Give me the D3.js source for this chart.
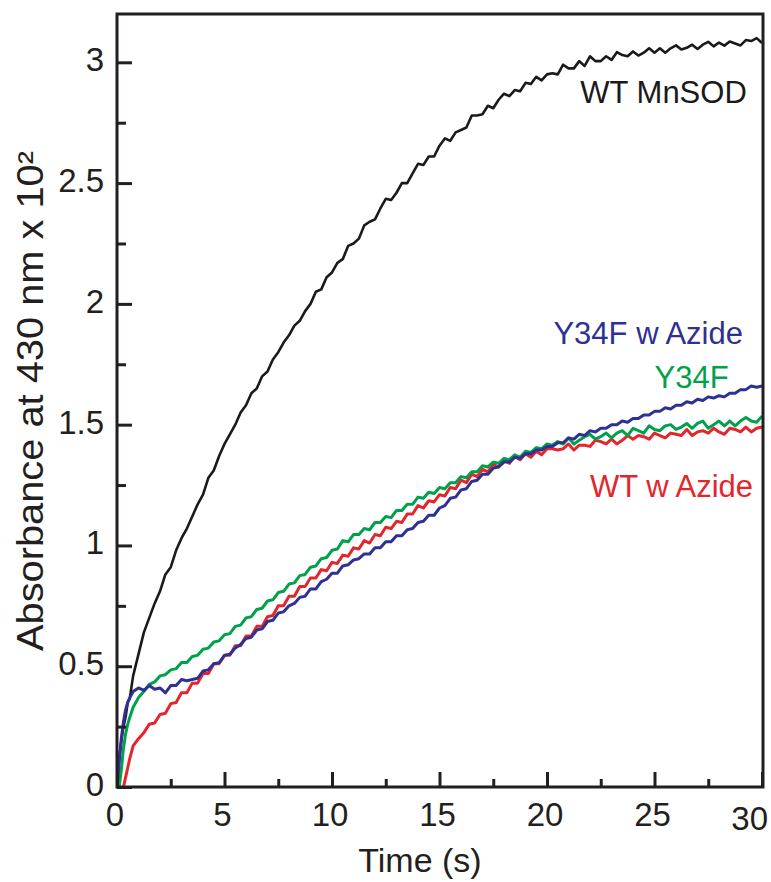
<!DOCTYPE html>
<html>
<head>
<meta charset="utf-8">
<script src="https://cdn.jsdelivr.net/npm/d3@7"></script>
<style>
  html, body { margin: 0; padding: 0; background: #fff; }
  svg { display: block; font-family: "Liberation Sans", Arial, Helvetica, sans-serif; }
</style>
</head>
<body>
<svg id="chart" width="771" height="882"></svg>
<script>
// ---- Data ----
const time = [0,0.1,0.2,0.3,0.4,0.5,0.6,0.75,1,
1.25,1.5,1.75,2,2.25,2.5,2.75,3,3.25,3.5,3.75,4,4.25,4.5,4.75,5,5.25,5.5,5.75,6,6.25,6.5,6.75,7,7.25,7.5,7.75,8,8.25,8.5,8.75,9,9.25,9.5,9.75,10,
10.25,10.5,10.75,11,11.25,11.5,11.75,12,12.25,12.5,12.75,13,13.25,13.5,13.75,14,14.25,14.5,14.75,15,15.25,15.5,15.75,16,16.25,16.5,16.75,17,17.25,17.5,17.75,18,18.25,18.5,18.75,19,19.25,19.5,19.75,20,
20.25,20.5,20.75,21,21.25,21.5,21.75,22,22.25,22.5,22.75,23,23.25,23.5,23.75,24,24.25,24.5,24.75,25,25.25,25.5,25.75,26,26.25,26.5,26.75,27,27.25,27.5,27.75,28,28.25,28.5,28.75,29,29.25,29.5,29.75,30];

const wtMnSOD = [0,0.12,0.19,0.25,0.29,0.35,0.37,0.46,0.55,
0.64,0.70,0.76,0.81,0.88,0.91,0.98,1.03,1.07,1.12,1.17,1.21,1.28,1.31,1.37,1.42,1.46,1.50,1.55,1.58,1.63,1.65,1.70,1.72,1.77,1.80,1.84,1.87,1.91,1.93,1.97,2.00,2.05,2.06,2.11,2.13,
2.17,2.185,2.24,2.25,2.27,2.325,2.34,2.35,2.395,2.435,2.43,2.46,2.50,2.50,2.54,2.58,2.575,2.61,2.61,2.655,2.685,2.675,2.71,2.72,2.73,2.78,2.78,2.785,2.82,2.81,2.845,2.87,2.86,2.885,2.88,2.915,2.91,2.94,2.925,2.95,
2.955,2.95,2.99,2.975,2.975,3.005,2.985,3.025,3.005,3.005,3.025,3.01,3.042,3.03,3.025,3.045,3.028,3.04,3.058,3.04,3.058,3.04,3.058,3.07,3.053,3.06,3.073,3.055,3.073,3.085,3.066,3.082,3.069,3.086,3.078,3.07,3.092,3.088,3.10,3.08];

const y34fAzide = [0,0.10,0.20,0.27,0.32,0.35,0.37,0.395,0.41,
0.40,0.42,0.405,0.41,0.39,0.42,0.42,0.445,0.44,0.445,0.45,0.48,0.485,0.51,0.515,0.545,0.55,0.575,0.59,0.615,0.62,0.65,0.655,0.685,0.69,0.72,0.725,0.75,0.76,0.785,0.79,0.82,0.82,0.85,0.86,0.885,
0.885,0.915,0.92,0.94,0.945,0.965,0.965,0.99,0.99,1.015,1.015,1.04,1.04,1.065,1.07,1.095,1.10,1.125,1.125,1.155,1.165,1.195,1.20,1.23,1.235,1.265,1.27,1.295,1.295,1.32,1.325,1.345,1.345,1.365,1.36,1.38,1.38,1.395,1.395,1.41,
1.41,1.425,1.425,1.445,1.44,1.46,1.455,1.475,1.47,1.485,1.485,1.50,1.50,1.515,1.51,1.525,1.525,1.54,1.54,1.555,1.555,1.57,1.565,1.58,1.58,1.595,1.59,1.605,1.60,1.615,1.61,1.62,1.615,1.63,1.63,1.645,1.645,1.66,1.655,1.66];

const y34f = [0,0.0,0.07,0.16,0.22,0.26,0.29,0.33,0.37,
0.395,0.425,0.435,0.46,0.465,0.485,0.49,0.515,0.515,0.54,0.545,0.57,0.575,0.60,0.605,0.63,0.635,0.665,0.67,0.70,0.705,0.735,0.74,0.77,0.775,0.805,0.81,0.84,0.845,0.875,0.88,0.91,0.915,0.945,0.95,0.98,
0.985,1.02,1.015,1.045,1.045,1.07,1.065,1.095,1.095,1.12,1.115,1.145,1.145,1.17,1.17,1.20,1.195,1.22,1.215,1.24,1.235,1.26,1.26,1.285,1.28,1.305,1.305,1.33,1.325,1.345,1.34,1.36,1.355,1.375,1.365,1.39,1.385,1.405,1.40,1.42,
1.415,1.43,1.42,1.445,1.42,1.435,1.45,1.46,1.44,1.45,1.465,1.445,1.465,1.475,1.455,1.485,1.475,1.465,1.495,1.48,1.475,1.495,1.50,1.48,1.49,1.505,1.485,1.505,1.515,1.485,1.50,1.515,1.495,1.515,1.495,1.515,1.53,1.515,1.51,1.535];

const wtAzide = [null,null,null,0,0.04,0.08,0.12,0.17,0.20,
0.225,0.26,0.265,0.30,0.305,0.345,0.35,0.39,0.39,0.43,0.43,0.47,0.47,0.51,0.51,0.545,0.545,0.585,0.585,0.625,0.625,0.665,0.665,0.705,0.71,0.75,0.75,0.79,0.79,0.83,0.83,0.865,0.865,0.90,0.895,0.93,
0.925,0.96,0.955,0.99,0.985,1.02,1.01,1.045,1.04,1.075,1.07,1.10,1.095,1.13,1.13,1.165,1.155,1.185,1.18,1.21,1.205,1.24,1.235,1.27,1.26,1.295,1.285,1.315,1.305,1.335,1.325,1.355,1.34,1.37,1.355,1.38,1.365,1.39,1.375,1.40,
1.40,1.395,1.40,1.42,1.395,1.415,1.415,1.41,1.435,1.43,1.42,1.44,1.42,1.435,1.455,1.44,1.455,1.45,1.44,1.465,1.455,1.445,1.465,1.46,1.455,1.48,1.455,1.47,1.475,1.465,1.485,1.47,1.46,1.485,1.48,1.47,1.49,1.47,1.485,1.49];

const seriesNames = ["WT MnSOD", "WT w Azide", "Y34F", "Y34F w Azide"];
const seriesValues = [wtMnSOD, wtAzide, y34f, y34fAzide];
const seriesColors = ["#1a1a1a", "#e3262b", "#00a14b", "#2e3192"];

const xMajorTicks = [0,5,10,15,20,25,30];
const xMinorTicks = [2.5,7.5,12.5,17.5,22.5,27.5];
const yMajorTicks = [0,0.5,1,1.5,2,2.5,3];
const yMinorTicks = [0.25,0.75,1.25,1.75,2.25,2.75];
const yTickLabels = ["0","0.5","1","1.5","2","2.5","3"];

const xTitle = "Time (s)";
const yTitle = "Absorbance at 430 nm x 10²";

// series-name labels, placed in data coordinates
const labelPos = [
  {name: "WT MnSOD", t: 21.55, v: 2.83, color: "#1a1a1a"},
  {name: "Y34F w Azide", t: 20.3, v: 1.835, color: "#2e3192"},
  {name: "Y34F", t: 25.0, v: 1.65, color: "#00a14b"},
  {name: "WT w Azide", t: 22.0, v: 1.20, color: "#e3262b"}
];

// ---- Layout ----
const svg = d3.select("#chart");
const L = 117, R = 763, T = 14, B = 787;
const x = d3.scaleLinear().domain([0, 30]).range([L, 762]);
const y = d3.scaleLinear().domain([0, 3.2]).range([B, T]);
const axisColor = "#231f20";

svg.append("defs").append("clipPath").attr("id", "clip")
  .append("rect").attr("x", L).attr("y", T).attr("width", R - L).attr("height", B - T);

const line = d3.line()
  .defined(d => d[1] !== null)
  .x(d => x(d[0])).y(d => y(d[1]));

const gLines = svg.append("g").attr("clip-path", "url(#clip)");
seriesValues.forEach((vals, i) => {
  const pts = time.map((t, k) => [t, vals[k]]);
  gLines.append("path")
    .datum(pts)
    .attr("d", line)
    .attr("fill", "none")
    .attr("stroke", seriesColors[i])
    .attr("stroke-width", i === 0 ? 2.6 : 3)
    .attr("stroke-linejoin", "round");
});

// frame
svg.append("rect")
  .attr("x", L).attr("y", T).attr("width", R - L).attr("height", B - T)
  .attr("fill", "none").attr("stroke", axisColor).attr("stroke-width", 3);

// inward ticks
const xAxisMajor = d3.axisBottom(x).tickValues(xMajorTicks).tickSize(-15).tickFormat("");
const xAxisMinor = d3.axisBottom(x).tickValues(xMinorTicks).tickSize(-8).tickFormat("");
const yAxisMajor = d3.axisLeft(y).tickValues(yMajorTicks).tickSize(-15).tickFormat("");
const yAxisMinor = d3.axisLeft(y).tickValues(yMinorTicks).tickSize(-9).tickFormat("");

[[xAxisMajor, `translate(0,${B})`], [xAxisMinor, `translate(0,${B})`],
 [yAxisMajor, `translate(${L},0)`], [yAxisMinor, `translate(${L},0)`]].forEach(([ax, tr]) => {
  const g = svg.append("g").attr("transform", tr).call(ax);
  g.select(".domain").remove();
  g.selectAll(".tick line").attr("stroke", axisColor).attr("stroke-width", 3);
});

// tick labels
const lastX = xMajorTicks[xMajorTicks.length - 1];
svg.append("g").selectAll("text").data(xMajorTicks).join("text")
  .attr("x", d => d === lastX ? 768 : x(d) - 2)
  .attr("y", d => d === lastX ? B + 43 : B + 39)
  .attr("text-anchor", d => d === lastX ? "end" : "middle")
  .attr("font-size", 33).attr("fill", "#231f20")
  .text(d => d);

svg.append("g").selectAll("text").data(yMajorTicks).join("text")
  .attr("x", 104).attr("y", d => y(d) + 9)
  .attr("text-anchor", "end")
  .attr("font-size", 33).attr("fill", "#231f20")
  .text((d, i) => yTickLabels[i]);

// axis titles
svg.append("text")
  .attr("x", 420).attr("y", 872)
  .attr("text-anchor", "middle")
  .attr("font-size", 34).attr("fill", "#231f20")
  .text(xTitle);

svg.append("text")
  .attr("transform", "translate(43,401) rotate(-90)")
  .attr("text-anchor", "middle")
  .attr("font-size", 36).attr("fill", "#231f20")
  .attr("textLength", 500).attr("lengthAdjust", "spacingAndGlyphs")
  .text(yTitle);

// series labels
svg.append("g").selectAll("text").data(labelPos).join("text")
  .attr("x", d => x(d.t)).attr("y", d => y(d.v))
  .attr("font-size", 31)
  .attr("fill", d => d.color)
  .text(d => d.name);
</script>
</body>
</html>
